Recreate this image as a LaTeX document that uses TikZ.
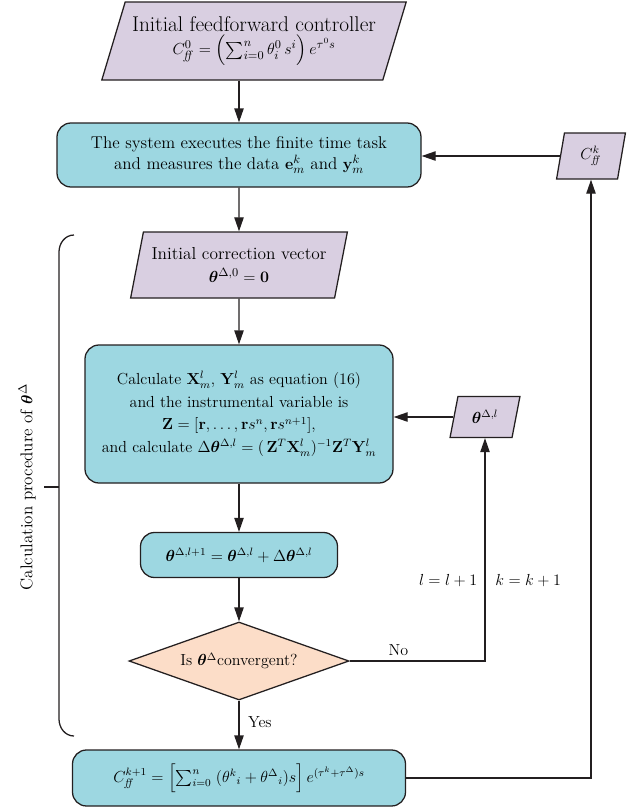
\documentclass[tikz,border=0pt]{standalone}
\usepackage{amsmath,amssymb,bm}
\usetikzlibrary{arrows.meta}
\usetikzlibrary{shapes.geometric}
\definecolor{lavender}{HTML}{D9CFE1}
\definecolor{cyanbox}{HTML}{9DD7E1}
\definecolor{peach}{HTML}{FCDDC8}
\definecolor{edge}{HTML}{231F20}
\tikzset{
  boxbase/.style={draw=edge, line width=0.95pt, font=\large, align=center, inner sep=2pt},
  procbox/.style={boxbase, fill=cyanbox, rounded corners=10.5pt},
  iobox/.style={boxbase, fill=lavender, trapezium, trapezium stretches=true},
  testbox/.style={boxbase, fill=peach, diamond, aspect=2.82},
  flow/.style={draw=edge, line width=0.95pt, -{Triangle[length=10.5pt,width=7pt]}},
  plain/.style={draw=edge, line width=0.95pt},
  lbl/.style={font=\large},
}
\newcommand{\thb}{\boldsymbol{\theta}}
\newcommand{\Cff}{C_{\mathit{ff}}}
\newcommand{\fsz}[1]{\fontsize{#1}{1.2\dimexpr#1pt\relax}\selectfont}

\begin{document}
\begin{tikzpicture}[x=0.75pt,y=-0.75pt]
\useasboundingbox (0,0) rectangle (636,808);
% boites
\node[iobox, trapezium left angle=67.7, trapezium right angle=112.3, minimum width=228.75pt, minimum height=58.5pt] (init) at (254,41)
  {{\fsz{16}Initial feedforward controller}\\[2pt] {\fsz{12.8}$\Cff^{0} = \Bigl(\sum_{i=0}^{n}\theta_i^0\, s^i\Bigr)\, e^{\tau^0 s}$}};
\node[procbox, font=\fsz{12.8}, minimum width=273pt, minimum height=48pt] (sys) at (239,155)
  {The system executes the finite time task\\ and measures the data $\mathbf{e}_m^k$ and $\mathbf{y}_m^k$};
\node[iobox, trapezium left angle=81, trapezium right angle=99, minimum width=51.75pt, minimum height=34.5pt] (cff) at (591,156) {$\Cff^{k}$};
\node[iobox, font=\fsz{13}, trapezium left angle=73, trapezium right angle=107, minimum width=162.75pt, minimum height=49.5pt] (initcor) at (239,265)
  {Initial correction vector\\[1pt] $\thb^{\Delta,0} = \mathbf{0}$};
\node[procbox, minimum width=231pt, minimum height=103.5pt] (calc) at (239,414)
  {Calculate $\mathbf{X}_m^l$, $\mathbf{Y}_m^l$ as equation (16)\\[3pt]
   and the instrumental variable is\\[3pt]
   $\mathbf{Z} = [\mathbf{r}, \ldots, \mathbf{r}s^n, \mathbf{r}s^{n+1}]$,\\[3pt]
   and calculate $\Delta\thb^{\Delta,l} = (\,\mathbf{Z}^T\mathbf{X}_m^l)^{-1}\mathbf{Z}^T\mathbf{Y}_m^l$};
\node[iobox, trapezium left angle=76, trapezium right angle=104, minimum width=52.5pt, minimum height=30.75pt] (theta) at (485,417) {$\thb^{\Delta,l}$};
\node[procbox, font=\fsz{11.5}, minimum width=147.75pt, minimum height=33.75pt] (upd) at (239,555)
  {$\thb^{\Delta,l+1} = \thb^{\Delta,l} + \Delta\thb^{\Delta,l}$};
\node[testbox, minimum width=165pt, minimum height=58.5pt, inner sep=0pt] (conv) at (239,661)
  {Is $\thb^{\Delta}$convergent?};
\node[procbox, minimum width=249.75pt, minimum height=42pt] (fin) at (239,778)
  {$\Cff^{k+1} = \Bigl[\sum_{i=0}^{n}\;(\theta^k{}_i + \theta^\Delta{}_i)s\Bigr]\, e^{(\tau^k+\tau^\Delta)s}$};
% fleches
\draw[flow] (init.south -| sys.north) -- (sys.north);
\draw[flow] (sys.south) -- (initcor.north);
\draw[flow] (initcor.south) -- (calc.north);
\draw[flow] (calc.south) -- (upd.north);
\draw[flow] (upd.south) -- (conv.north);
\draw[flow] (conv.south) -- (fin.north) node[pos=0.45, right, xshift=3pt, lbl] {Yes};
\draw[flow] (conv.east) -| (theta.south) node[pos=0.18, above, lbl] {No}
  node[pos=0.68, left, xshift=-2pt, lbl] {$l = l + 1$}
  node[pos=0.68, right, xshift=4pt, lbl] {$k = k + 1$};
\draw[flow] (theta.west) -- (calc.east |- theta.west);
\draw[flow] (fin.east) -| (cff.south);
\draw[flow] (cff.west) -- (sys.east |- cff.west);
% accolade
\draw[plain] (74,235) to[out=180,in=90] (59,252) -- (59,719) to[out=-90,in=180] (74,736);
\draw[plain] (59,487) -- (44,487);
\node[rotate=90, font=\fsz{12.8}] (proclabel) at (27,487) {Calculation procedure of $\thb^{\Delta}$};
\end{tikzpicture}
\end{document}
